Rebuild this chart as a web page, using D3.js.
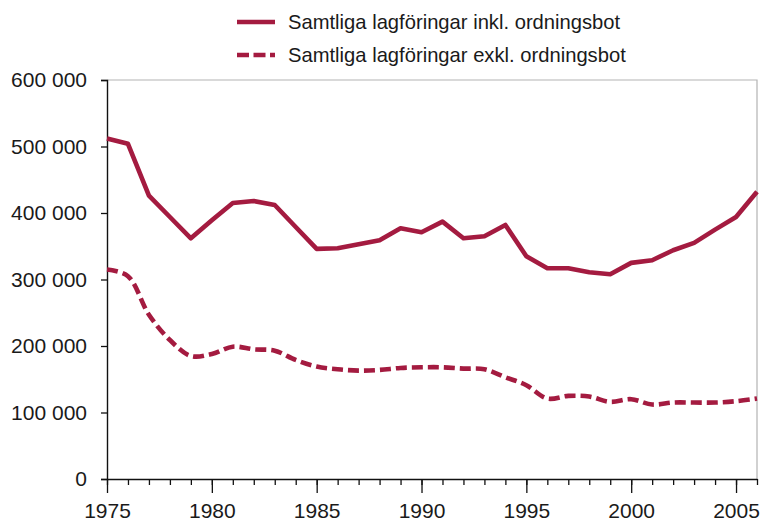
<!DOCTYPE html>
<html>
<head>
<meta charset="utf-8">
<script src="https://cdn.jsdelivr.net/npm/d3@7"></script>
<style>
  html, body { margin: 0; padding: 0; background: #fff; }
  svg { display: block; font-family: "Liberation Sans", Arial, Helvetica, sans-serif; }
</style>
</head>
<body>
<svg id="chart" width="760" height="521"></svg>
<script>
// Lagföringar per år, 1975–2006
const years = [1975,1976,1977,1978,1979,1980,1981,1982,1983,1984,1985,1986,1987,1988,1989,1990,
               1991,1992,1993,1994,1995,1996,1997,1998,1999,2000,2001,2002,2003,2004,2005,2006];
const inklOrdningsbot = [512000,504000,426000,394000,362000,389000,415000,418000,412000,379000,346000,347000,353000,359000,377000,371000,
                         387000,362000,365000,382000,335000,317000,317000,311000,308000,325000,329000,344000,355000,375000,394000,432000];
const exklOrdningsbot = [315000,305000,247000,209000,185000,188000,199000,195000,193000,179000,169000,165000,163000,164000,167000,168000,
                         168000,166000,165000,153000,141000,121000,125000,124000,116000,120000,112000,115000,115000,115000,117000,121000];
const seriesNames = ["Samtliga lagföringar inkl. ordningsbot", "Samtliga lagföringar exkl. ordningsbot"];
const yTicks = [0, 100000, 200000, 300000, 400000, 500000, 600000];
const xLabelYears = [1975, 1980, 1985, 1990, 1995, 2000, 2005];

const color = "#a41b40";
const W = 760, H = 521;
const m = { top: 80, right: 3, bottom: 42, left: 107 };

const svg = d3.select("#chart");
const x = d3.scaleLinear().domain([1975, 2006]).range([m.left, W - m.right]);
const y = d3.scaleLinear().domain([0, 600000]).range([H - m.bottom, m.top]);

const fmt = d3.formatLocale({ decimal: ",", thousands: " ", grouping: [3], currency: ["", " kr"] }).format(",d");

// Plot frame (top and right edges)
svg.append("path")
  .attr("d", `M${x(1975)},${y(600000)}H${x(2006)}V${y(0)}`)
  .attr("fill", "none").attr("stroke", "#b3b3b3").attr("stroke-width", 1.2);

// Y axis
const yAxis = svg.append("g").attr("transform", `translate(${m.left},0)`)
  .call(d3.axisLeft(y).tickValues(yTicks).tickFormat(fmt).tickSize(6).tickPadding(14));
yAxis.select(".domain").attr("stroke", "#111").attr("stroke-width", 1.4);
yAxis.selectAll(".tick line").attr("stroke", "#111").attr("stroke-width", 1.3);
yAxis.selectAll("text").attr("font-size", 21).attr("fill", "#1a1a1a")
  .attr("font-family", "'Liberation Sans', Arial, sans-serif");

// X axis: minor ticks every year, major ticks and labels every five years
const xMinor = svg.append("g").attr("transform", `translate(0,${H - m.bottom})`)
  .call(d3.axisBottom(x).tickValues(years).tickFormat("").tickSize(6).tickSizeOuter(0));
xMinor.select(".domain").attr("stroke", "#111").attr("stroke-width", 1.4);
xMinor.selectAll(".tick line").attr("stroke", "#111").attr("stroke-width", 1.3);

const xMajor = svg.append("g").attr("transform", `translate(0,${H - m.bottom})`)
  .call(d3.axisBottom(x).tickValues(xLabelYears).tickFormat(d3.format("d")).tickSize(14).tickPadding(10));
xMajor.select(".domain").remove();
xMajor.selectAll(".tick line").attr("stroke", "#111").attr("stroke-width", 1.3);
xMajor.selectAll("text").attr("font-size", 21).attr("fill", "#1a1a1a")
  .attr("font-family", "'Liberation Sans', Arial, sans-serif");

// Series lines
const solidLine = d3.line().x((d, i) => x(years[i])).y(d => y(d));
const smoothLine = d3.line().x((d, i) => x(years[i])).y(d => y(d)).curve(d3.curveCatmullRom.alpha(0.5));

svg.append("path").datum(exklOrdningsbot)
  .attr("d", smoothLine)
  .attr("fill", "none").attr("stroke", color).attr("stroke-width", 4.6)
  .attr("stroke-dasharray", "11,5");

svg.append("path").datum(inklOrdningsbot)
  .attr("d", solidLine)
  .attr("fill", "none").attr("stroke", color).attr("stroke-width", 4.6)
  .attr("stroke-linejoin", "round");

// Legend
const legend = svg.append("g");
const rows = [
  { name: seriesNames[0], y: 22, dash: null },
  { name: seriesNames[1], y: 55, dash: "12,4.5" }
];
rows.forEach(r => {
  legend.append("line")
    .attr("x1", 237).attr("x2", 275).attr("y1", r.y).attr("y2", r.y)
    .attr("stroke", color).attr("stroke-width", 4.7)
    .attr("stroke-dasharray", r.dash);
  legend.append("text")
    .attr("x", 288).attr("y", r.y).attr("dy", "0.36em")
    .attr("font-size", 20.2).attr("fill", "#1a1a1a")
    .text(r.name);
});
</script>
</body>
</html>
